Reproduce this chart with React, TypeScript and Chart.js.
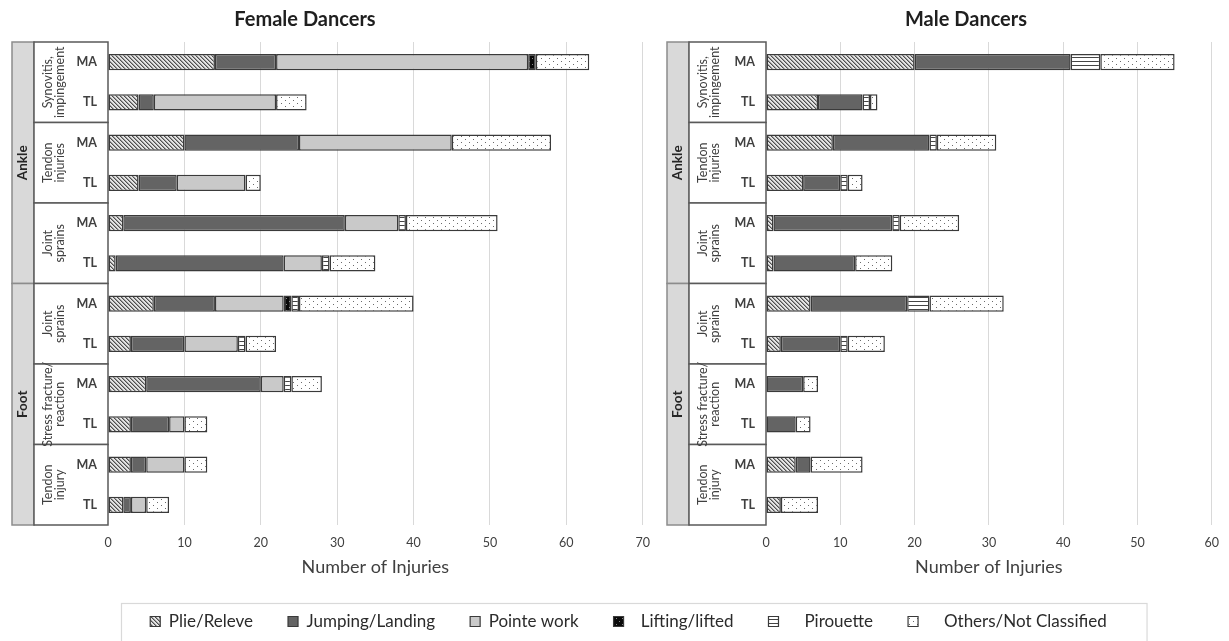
import { useEffect, useRef } from 'react';
import { Chart, registerables } from 'chart.js';

Chart.register(...registerables);

// ---------------- data ----------------
const activities = ['Plie/Releve', 'Jumping/Landing', 'Pointe work', 'Lifting/lifted', 'Pirouette', 'Others/Not Classified'];
const rowLabels = ['MA', 'TL', 'MA', 'TL', 'MA', 'TL', 'MA', 'TL', 'MA', 'TL', 'MA', 'TL'];
const regions = ['Ankle', 'Foot'];
const injuryTypes = [
  ['Synovitis,', 'impingement'],
  ['Tendon', 'injuries'],
  ['Joint', 'sprains'],
  ['Joint', 'sprains'],
  ['Stress fracture/', 'reaction'],
  ['Tendon', 'injury'],
];
const injuryRegion = [0, 0, 0, 1, 1, 1];

const femalePlie = [14, 4, 10, 4, 2, 1, 6, 3, 5, 3, 3, 2];
const femaleJumping = [8, 2, 15, 5, 29, 22, 8, 7, 15, 5, 2, 1];
const femalePointe = [33, 16, 20, 9, 7, 5, 9, 7, 3, 2, 5, 2];
const femaleLifting = [1, 0, 0, 0, 0, 0, 1, 0, 0, 0, 0, 0];
const femalePirouette = [0, 0, 0, 0, 1, 1, 1, 1, 1, 0, 0, 0];
const femaleOthers = [7, 4, 13, 2, 12, 6, 15, 4, 4, 3, 3, 3];

const malePlie = [20, 7, 9, 5, 1, 1, 6, 2, 0, 0, 4, 2];
const maleJumping = [21, 6, 13, 5, 16, 11, 13, 8, 5, 4, 2, 0];
const malePointe = [0, 0, 0, 0, 0, 0, 0, 0, 0, 0, 0, 0];
const maleLifting = [0, 0, 0, 0, 0, 0, 0, 0, 0, 0, 0, 0];
const malePirouette = [4, 1, 1, 1, 1, 0, 3, 1, 0, 0, 0, 0];
const maleOthers = [10, 1, 8, 2, 8, 5, 10, 5, 2, 2, 7, 5];

const femaleXMax = 70;
const maleXMax = 60;
const xStep = 10;

// ---------------- styling ----------------
const FONT = 'Lato, "Open Sans", "DejaVu Sans", sans-serif';
const TEXT = '#404040';
const BORDER = '#3a3a3a';
const legendIndent = [0, 0, 0, 2, 4, 4];

function makeFills(): (string | CanvasPattern)[] {
  const mk = (w: number, h: number, draw: (g: CanvasRenderingContext2D) => void) => {
    const c = document.createElement('canvas');
    c.width = w;
    c.height = h;
    const g = c.getContext('2d') as CanvasRenderingContext2D;
    draw(g);
    return g.createPattern(c, 'repeat') as CanvasPattern;
  };
  const plie = mk(4, 4, (g) => {
    g.fillStyle = '#e4e4e4';
    g.fillRect(0, 0, 4, 4);
    for (let i = 0; i < 4; i++) {
      g.fillStyle = '#4f4f4f';
      g.fillRect(i, i, 1, 1);
      g.fillStyle = '#9c9c9c';
      g.fillRect((i + 1) % 4, i, 1, 1);
    }
  });
  const lifting = mk(6, 6, (g) => {
    g.fillStyle = '#0a0a0a';
    g.fillRect(0, 0, 6, 6);
    g.fillStyle = '#8a8a8a';
    g.fillRect(1, 1, 1, 1);
    g.fillRect(4, 4, 1, 1);
  });
  const pirouette = mk(4, 4, (g) => {
    g.fillStyle = '#ffffff';
    g.fillRect(0, 0, 4, 4);
    g.fillStyle = '#454545';
    g.fillRect(0, 1, 4, 1);
  });
  const others = mk(8, 6, (g) => {
    g.fillStyle = '#ffffff';
    g.fillRect(0, 0, 8, 6);
    g.fillStyle = '#6a6a6a';
    g.fillRect(1, 1, 1, 1);
    g.fillRect(5, 4, 1, 1);
  });
  return [plie, '#646464', '#c9c9c9', lifting, pirouette, others];
}

function makeBoxesPlugin(yAxisWidth: number, title: string, titleX: number) {
  return {
    id: 'injuryBoxes',
    beforeDraw(chart: any) {
      const { ctx, chartArea } = chart;
      const y = chart.scales.y;
      const step = y.getPixelForValue(1) - y.getPixelForValue(0);
      const edge = (i: number) => y.getPixelForValue(i) - step / 2;
      const x0 = chartArea.left - yAxisWidth;
      const xg = x0 + 22;
      const xr = chartArea.left;
      ctx.save();
      // panel title
      ctx.fillStyle = '#1f1f1f';
      ctx.font = `bold 20px ${FONT}`;
      ctx.textAlign = 'center';
      ctx.textBaseline = 'middle';
      ctx.fillText(title, titleX, 20);

      // region cells (Ankle / Foot)
      regions.forEach((name, r) => {
        const idx = injuryRegion.map((g, k) => (g === r ? k : -1)).filter((k) => k >= 0);
        const top = edge(idx[0] * 2);
        const bottom = edge(idx[idx.length - 1] * 2 + 2);
        ctx.fillStyle = '#d9d9d9';
        ctx.fillRect(x0, top, xg - x0, bottom - top);
        ctx.strokeStyle = '#8c8c8c';
        ctx.lineWidth = 1.5;
        ctx.strokeRect(x0, top, xg - x0, bottom - top);
        ctx.save();
        ctx.translate((x0 + xg) / 2, (top + bottom) / 2);
        ctx.rotate(-Math.PI / 2);
        ctx.fillStyle = '#262626';
        ctx.font = `bold 13.5px ${FONT}`;
        ctx.textAlign = 'center';
        ctx.textBaseline = 'middle';
        ctx.fillText(name, 0, 0);
        ctx.restore();
      });
      // injury-type cells
      injuryTypes.forEach((_lines, k) => {
        const top = edge(k * 2);
        const bottom = edge(k * 2 + 2);
        ctx.fillStyle = '#ffffff';
        ctx.fillRect(xg, top, xr - xg, bottom - top);
        ctx.strokeStyle = '#595959';
        ctx.lineWidth = 1.5;
        ctx.strokeRect(xg, top, xr - xg, bottom - top);
      });
      injuryTypes.forEach((lines, k) => {
        const top = edge(k * 2);
        const bottom = edge(k * 2 + 2);
        ctx.save();
        ctx.translate(xg + 20, (top + bottom) / 2);
        ctx.rotate(-Math.PI / 2);
        ctx.fillStyle = TEXT;
        ctx.font = `12.5px ${FONT}`;
        ctx.textAlign = 'center';
        ctx.textBaseline = 'middle';
        const lh = 12.8;
        lines.forEach((t, j) => {
          ctx.fillText(t, 0, (j - (lines.length - 1) / 2) * lh);
        });
        ctx.restore();
      });
      ctx.restore();
    },
  };
}

type PanelProps = {
  title: string;
  titleX: number;
  series: number[][];
  xMax: number;
  left: number;
  width: number;
  yAxisWidth: number;
  padLeft: number;
  padRight: number;
};

function Panel({ title, titleX, series, xMax, left, width, yAxisWidth, padLeft, padRight }: PanelProps) {
  const ref = useRef<HTMLCanvasElement>(null);
  useEffect(() => {
    const canvas = ref.current;
    if (!canvas) return;
    const fills = makeFills();
    const chart = new Chart(canvas, {
      type: 'bar',
      data: {
        labels: rowLabels,
        datasets: activities.map((name, i) => ({
          label: name,
          data: series[i].map((v) => (v === 0 ? null : v)),
          backgroundColor: fills[i] as any,
          borderColor: BORDER,
          borderWidth: 1.5,
          borderSkipped: false,
          barPercentage: 0.4,
          categoryPercentage: 1,
        })),
      },
      options: {
        indexAxis: 'y',
        responsive: false,
        animation: false,
        devicePixelRatio: 1,
        layout: { padding: { left: padLeft, right: padRight, top: 42, bottom: 20 } },
        plugins: {
          legend: { display: false },
          tooltip: { enabled: false },
          title: { display: false },
        },
        scales: {
          x: {
            stacked: true,
            min: 0,
            max: xMax,
            ticks: { stepSize: xStep, color: TEXT, font: { family: FONT, size: 12.5 }, padding: 10 },
            grid: {
              drawTicks: false,
              color: (c: any) => (c.tick && c.tick.value === 0 ? 'rgba(0,0,0,0)' : '#d9d9d9'),
              lineWidth: 1,
            },
            border: { display: false },
            title: {
              display: true,
              text: 'Number of Injuries',
              color: TEXT,
              font: { family: FONT, size: 18 },
              padding: { top: 0, bottom: 2 },
            },
            afterFit: (s: any) => {
              s.height = 55;
            },
          },
          y: {
            stacked: true,
            ticks: { color: TEXT, font: { family: FONT, size: 12.5, weight: 'bold' }, padding: 11 },
            grid: { display: false, drawTicks: false },
            border: { display: false },
            afterFit: (s: any) => {
              s.width = yAxisWidth;
            },
          },
        },
      } as any,
      plugins: [makeBoxesPlugin(yAxisWidth, title, titleX)],
    });
    return () => chart.destroy();
  }, []);
  return (
    <canvas
      ref={ref}
      width={width}
      height={600}
      style={{ position: 'absolute', left, top: 0, width, height: 600 }}
    />
  );
}

function LegendStrip() {
  const ref = useRef<HTMLCanvasElement>(null);
  useEffect(() => {
    const canvas = ref.current;
    if (!canvas) return;
    const fills = makeFills();
    const borderPlugin = {
      id: 'legendBorder',
      afterDraw(chart: any) {
        const boxes = chart.legend?.legendHitBoxes;
        if (!boxes || !boxes.length) return;
        const { ctx } = chart;
        const l = Math.min(...boxes.map((b: any) => b.left)) - 29;
        const r = Math.max(...boxes.map((b: any) => b.left + b.width)) + 40;
        const t = boxes[0].top + boxes[0].height / 2 - 19;
        ctx.save();
        ctx.strokeStyle = '#d9d9d9';
        ctx.lineWidth = 1.2;
        ctx.strokeRect(Math.round(l) + 0.5, Math.round(t) + 0.5, r - l, chart.height);
        ctx.restore();
      },
    };
    const chart = new Chart(canvas, {
      type: 'bar',
      data: {
        labels: [],
        datasets: activities.map((name, i) => ({
          label: name,
          data: [],
          backgroundColor: fills[i] as any,
          borderColor: BORDER,
          borderWidth: 1.2,
        })),
      },
      options: {
        responsive: false,
        animation: false,
        devicePixelRatio: 1,
        layout: { padding: { left: 28, right: 0, top: 0, bottom: 0 } },
        scales: { x: { display: false }, y: { display: false } },
        plugins: {
          tooltip: { enabled: false },
          legend: {
            display: true,
            position: 'top',
            onClick: () => {},
            labels: {
              boxWidth: 10,
              boxHeight: 10,
              padding: 35,
              color: '#2b2b2b',
              font: { family: FONT, size: 17 },
              generateLabels: (c: any) =>
                (Chart.defaults.plugins.legend.labels.generateLabels as any)(c).map((it: any, i: number) => ({
                  ...it,
                  text: ' '.repeat(legendIndent[i]) + it.text,
                })),
            },
          },
        },
      } as any,
      plugins: [borderPlugin],
    });
    return () => chart.destroy();
  }, []);
  return (
    <canvas
      ref={ref}
      width={1229}
      height={130}
      style={{ position: 'absolute', left: 0, top: 578, width: 1229, height: 130 }}
    />
  );
}

export default function App() {
  const female = [femalePlie, femaleJumping, femalePointe, femaleLifting, femalePirouette, femaleOthers];
  const male = [malePlie, maleJumping, malePointe, maleLifting, malePirouette, maleOthers];
  return (
    <div
      style={{
        position: 'fixed',
        left: 0,
        top: 0,
        width: 1229,
        height: 641,
        overflow: 'hidden',
        background: '#ffffff',
      }}
    >
      <Panel title="Female Dancers" titleX={305} series={female} xMax={femaleXMax} left={0} width={660} yAxisWidth={96} padLeft={12} padRight={13} />
      <Panel title="Male Dancers" titleX={311} series={male} xMax={maleXMax} left={655} width={574} yAxisWidth={99} padLeft={12} padRight={12} />
      <LegendStrip />
    </div>
  );
}
